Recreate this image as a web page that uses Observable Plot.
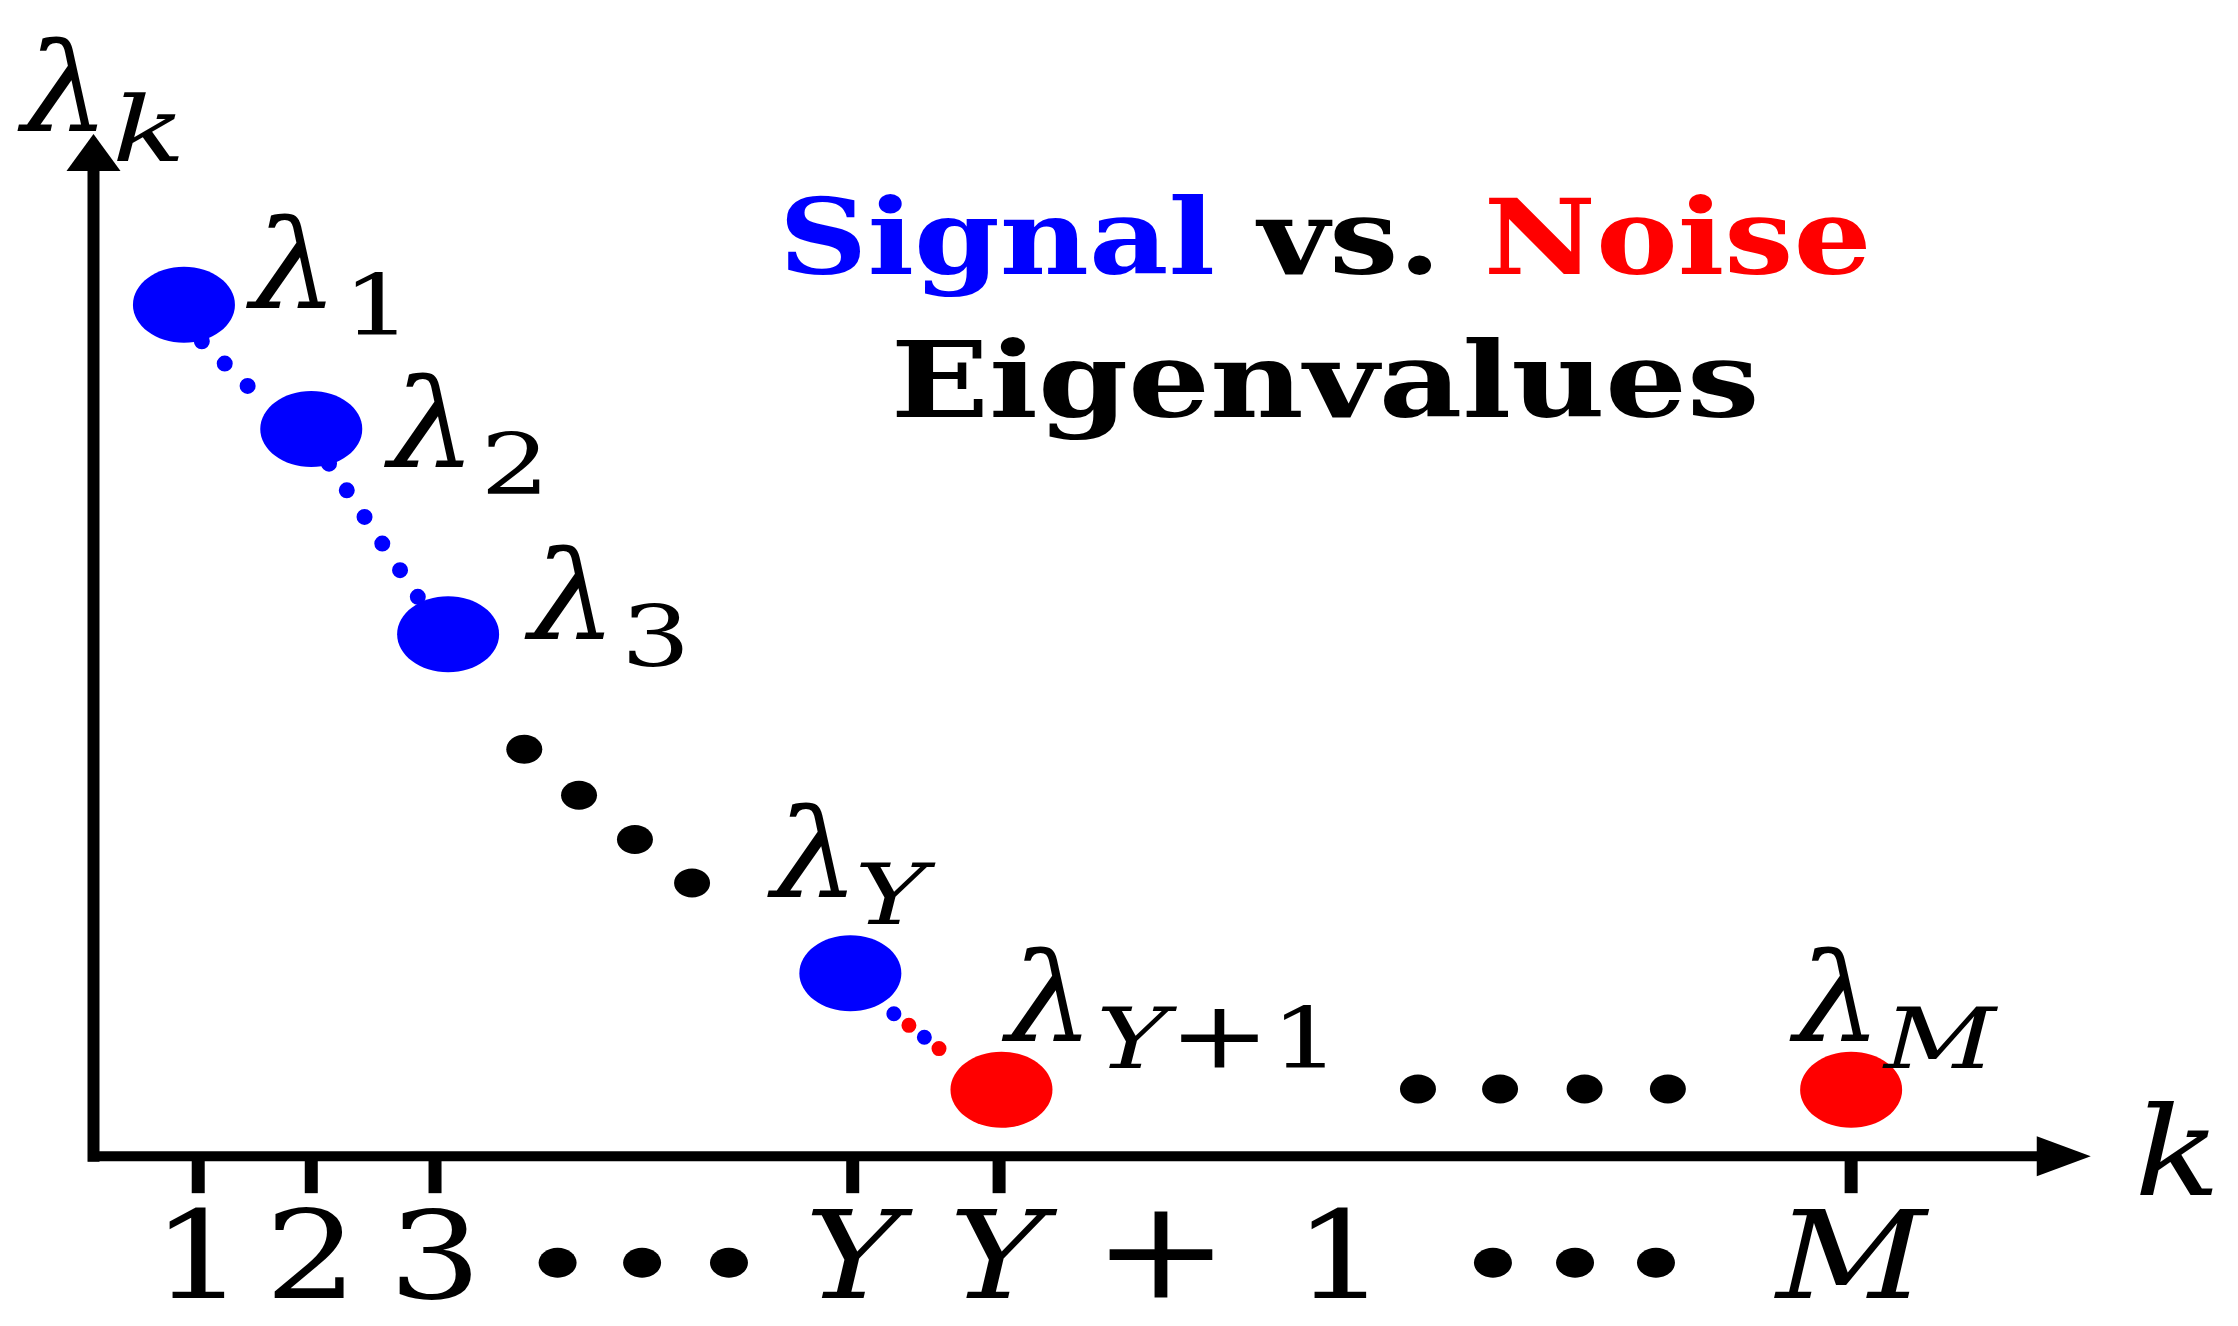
<!DOCTYPE html>
<html><head><meta charset="utf-8">
<script src="https://cdn.jsdelivr.net/npm/d3@7"></script>
<script src="https://cdn.jsdelivr.net/npm/@observablehq/plot@0.6"></script>
<style>html,body{margin:0;padding:0;background:#fff;overflow:hidden}</style>
</head><body><div id="chart"></div>
<script>
// ---------- data (schematic) ----------
const kLabels    = ["1", "2", "3", "Y", "Y + 1", "M"];
const kTicks     = [0.88, 1.83, 2.87, 6.38, 7.61, 14.77];
const pointK     = [0.76, 1.83, 2.98, 6.36, 7.63, 14.77];
const eigenvalues= [10.0, 8.54, 6.13, 2.15, 0.78, 0.78];
const groups     = ["Signal", "Signal", "Signal", "Signal", "Noise", "Noise"];
const subscripts = ["1", "2", "3", "Y", "Y+1", "M"];
const labelK     = [1.32, 2.48, 3.66, 5.70, 7.67, 14.29];
const labelV     = [9.96, 8.09, 6.08, 3.05, 1.35, 1.35];
const midDotsK   = [3.62, 4.08, 4.55, 5.03];
const midDotsV   = [4.78, 4.24, 3.72, 3.21];
const tailDotsK  = [11.13, 11.82, 12.53, 13.23];
const tailDotsV  = [0.79, 0.79, 0.79, 0.79];
const tickDotsK  = [3.90, 4.61, 5.34, 11.76, 12.45, 13.13];
const tickDotsV  = [-1.25, -1.25, -1.25, -1.25, -1.25, -1.25];
const tickLabelV = -1.66;
const titleLine1 = "Signal vs. Noise";
const titleLine2 = "Eigenvalues";
const yAxisLabel = {main: "λ", sub: "k", k: -0.6, v: 12.04};
const xAxisLabel = {text: "k", k: 17.15, v: -0.46};
const titlePos   = {k: 10.35, v1: 10.36, v2: 8.68};
const axisEnd    = {k: 16.33, v: 11.57};

// ---------- styles ----------
const BLUE = "#0000ff", RED = "#ff0000";
const FONT = "DejaVu Serif";
const UNIT_K = 119;                            // px per k unit
const subShiftPx = [-8, -8, -8, -17, -10, -10]; // subscript nudges (px)

// ---------- derived tables ----------
const points = pointK.map((k, i) => ({k, v: eigenvalues[i], group: groups[i], sub: subscripts[i], lk: labelK[i], lv: labelV[i], sk: labelK[i] + subShiftPx[i] / UNIT_K}));
const ticks = kTicks.map((k, i) => ({k, label: kLabels[i]}));
const midDots = midDotsK.map((k, i) => ({k, v: midDotsV[i]}));
const tailDots = tailDotsK.map((k, i) => ({k, v: tailDotsV[i]}));
const tickDots = tickDotsK.map((k, i) => ({k, v: tickDotsV[i]}));

const ellipse = (rx, ry) => ({draw(ctx) {
  const c = 0.5523;
  ctx.moveTo(rx, 0);
  ctx.bezierCurveTo(rx, ry * c, rx * c, ry, 0, ry);
  ctx.bezierCurveTo(-rx * c, ry, -rx, ry * c, -rx, 0);
  ctx.bezierCurveTo(-rx, -ry * c, -rx * c, -ry, 0, -ry);
  ctx.bezierCurveTo(rx * c, -ry, rx, -ry * c, rx, 0);
  ctx.closePath();
}});
const arrowUp = {draw(ctx) { ctx.moveTo(0, -37); ctx.lineTo(27, 0); ctx.lineTo(-27, 0); ctx.closePath(); }};
const arrowRight = {draw(ctx) { ctx.moveTo(54, 0); ctx.lineTo(0, -20); ctx.lineTo(0, 20); ctx.closePath(); }};

// tag a mark's rendered <g> with a class, for later text styling
function tagged(mark, cls) {
  const r = mark.render;
  mark.render = function (...args) {
    const g = r.apply(this, args);
    if (g && g.setAttribute) g.setAttribute("class", cls);
    return g;
  };
  return mark;
}
const txt = {fontFamily: FONT, fill: "#000"};

const svg = Plot.plot({
  width: 2238, height: 1326, margin: 0,
  style: {background: "#fff", overflow: "visible"},
  x: {domain: [0, 17], range: [93, 93 + 17 * UNIT_K], axis: null},
  y: {domain: [-2, 12], range: [1326, 134], axis: null},
  color: {domain: ["Signal", "Noise"], range: [BLUE, RED]},
  marks: [
    // axes
    Plot.ruleX([0], {x: d => d, y1: () => 0, y2: () => axisEnd.v + 0.05, stroke: "#000", strokeWidth: 12, strokeLinecap: "square"}),
    Plot.ruleY([0], {y: d => d, x1: () => 0, x2: () => axisEnd.k + 0.05, stroke: "#000", strokeWidth: 10, strokeLinecap: "square"}),
    Plot.dot([axisEnd], {x: "k", y: () => 0, symbol: arrowRight, fill: "#000", stroke: "none"}),
    Plot.dot([axisEnd], {x: () => 0, y: "v", symbol: arrowUp, fill: "#000", stroke: "none"}),
    Plot.ruleX(ticks, {x: "k", y1: () => 0, y2: () => -0.44, stroke: "#000", strokeWidth: 13}),
    // dotted connectors
    Plot.line(points.slice(0, 2), {x: "k", y: "v", dy: 19, stroke: BLUE, strokeWidth: 16, strokeLinecap: "round", strokeDasharray: "0 32 0 32 0 32 0 2000", strokeDashoffset: 7}),
    Plot.line(points.slice(1, 3), {x: "k", y: "v", dy: 8, stroke: BLUE, strokeWidth: 16, strokeLinecap: "round", strokeDasharray: "0 32", strokeDashoffset: 0}),
    Plot.line(points.slice(3, 5), {x: "k", y: "v", dy: 7, stroke: BLUE, strokeWidth: 15, strokeLinecap: "round", strokeDasharray: "0 55 0 38.5 0 2000"}),
    Plot.line(points.slice(3, 5), {x: "k", y: "v", dy: 7, stroke: RED, strokeWidth: 15, strokeLinecap: "round", strokeDasharray: "0 74 0 38 0 2000"}),
    // eigenvalue points
    Plot.dot(points, {x: "k", y: "v", fill: "group", stroke: "none", symbol: ellipse(51, 38)}),
    // ellipsis dots
    Plot.dot(midDots, {x: "k", y: "v", fill: "#000", stroke: "none", symbol: ellipse(18, 14.5)}),
    Plot.dot(tailDots, {x: "k", y: "v", fill: "#000", stroke: "none", symbol: ellipse(18, 14.5)}),
    Plot.dot(tickDots, {x: "k", y: "v", fill: "#000", stroke: "none", symbol: ellipse(19, 15)}),
    // tick labels
    tagged(Plot.text(ticks.filter(d => d.label.length === 1), {x: "k", y: () => tickLabelV, text: "label", lineAnchor: "bottom", textAnchor: "middle", fontSize: 122, ...txt}), "math s120"),
    tagged(Plot.text(ticks.filter(d => d.label.length > 1), {x: "k", y: () => tickLabelV, text: "label", lineAnchor: "bottom", textAnchor: "start", dx: -50, fontSize: 122, ...txt}), "math wide s120"),
    // point labels
    tagged(Plot.text(points, {x: "lk", y: "lv", text: () => "λ", textAnchor: "start", lineAnchor: "bottom", fontSize: 124, ...txt}), "math s112"),
    tagged(Plot.text(points, {x: "sk", y: "lv", text: "sub", dx: 100, dy: 27, textAnchor: "start", lineAnchor: "bottom", fontSize: 84, ...txt}), "math s130"),
    // axis labels
    tagged(Plot.text([yAxisLabel], {x: "k", y: "v", text: "main", textAnchor: "start", lineAnchor: "bottom", fontSize: 124, ...txt}), "math s112"),
    tagged(Plot.text([yAxisLabel], {x: "k", y: "v", text: "sub", dx: 90, dy: 30, textAnchor: "start", lineAnchor: "bottom", fontSize: 90, ...txt}), "math s135"),
    tagged(Plot.text([xAxisLabel], {x: "k", y: "v", text: "text", textAnchor: "start", lineAnchor: "bottom", fontSize: 124, ...txt}), "math s115"),
    // title
    tagged(Plot.text([titleLine1], {x: () => titlePos.k, y: () => titlePos.v1, text: d => d, textAnchor: "middle", lineAnchor: "bottom", fontSize: 104, fontWeight: "bold", ...txt}), "title1 s118"),
    tagged(Plot.text([titleLine2], {x: () => titlePos.k, y: () => titlePos.v2, text: d => d, textAnchor: "middle", lineAnchor: "bottom", fontSize: 104, fontWeight: "bold", ...txt}), "title2 s124")
  ]
});

const root = d3.select(svg);
// math-style text: letters italic, digits upright, "+" slightly enlarged like a math operator
root.selectAll("g.math text").each(function () {
  const wide = this.parentNode.classList.contains("wide");
  const s = this.textContent;
  const el = d3.select(this);
  el.text("");
  let afterPlus = false;
  for (const m of s.matchAll(/([A-Za-zλ]+)|(\+)|([^A-Za-zλ+]+)/g)) {
    const t = el.append("tspan").attr("font-style", m[1] ? "italic" : "normal").text(m[0]);
    if (m[2]) t.attr("font-size", "1.12em");
    if (afterPlus && wide) t.attr("dx", "0.12em");
    afterPlus = !!m[2];
  }
});
// title colours
root.selectAll("g.title1 text").each(function () {
  const el = d3.select(this);
  el.text("");
  el.append("tspan").attr("fill", BLUE).text("Signal");
  el.append("tspan").attr("fill", "#000").text(" vs. ");
  el.append("tspan").attr("fill", RED).text("Noise");
});
// horizontal glyph stretch (the reference figure is widened)
root.selectAll("g[class]").each(function () {
  const m = /s(\d+)/.exec(this.getAttribute("class"));
  if (!m) return;
  const sx = +m[1] / 100;
  d3.select(this).selectAll("text").each(function () {
    const t = this.getAttribute("transform") || "";
    this.setAttribute("transform", `${t} scale(${sx},1)`);
  });
});

document.getElementById("chart").append(svg);
</script>
</body></html>
